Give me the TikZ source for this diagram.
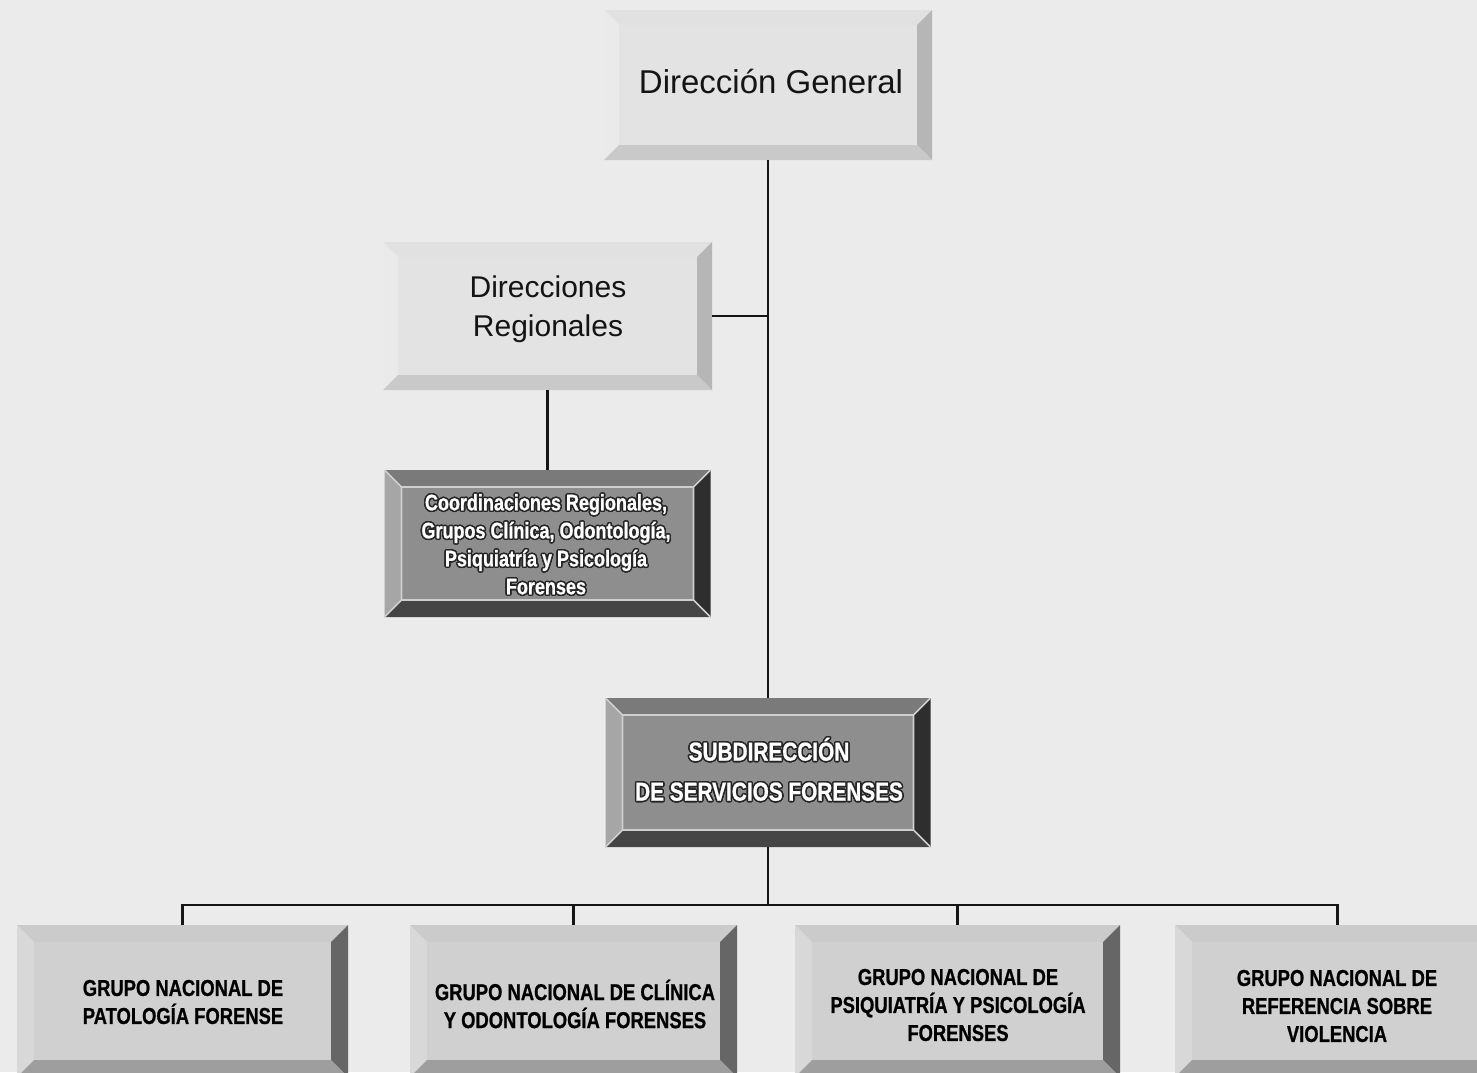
\documentclass[tikz,border=0pt]{standalone}
\usepackage{fontspec}
\setmainfont{Liberation Sans}
\newfontfamily\nb[FakeStretch=0.8,BoldFeatures={FakeBold=0.8}]{Liberation Sans}
\usepackage{contour}
\contourlength{1.5pt}
\usetikzlibrary{calc}
\definecolor{bgc}{HTML}{EBEBEB}
\definecolor{lface}{HTML}{E3E3E3}
\definecolor{ltop}{HTML}{E1E1E1}
\definecolor{lleft}{HTML}{EAEAEA}
\definecolor{lright}{HTML}{B6B6B6}
\definecolor{lbot}{HTML}{C9C9C9}
\definecolor{mface}{HTML}{D0D0D0}
\definecolor{mtop}{HTML}{CBCBCB}
\definecolor{mleft}{HTML}{D8D8D8}
\definecolor{mright}{HTML}{666666}
\definecolor{mbot}{HTML}{9E9E9E}
\definecolor{dface}{HTML}{8E8E8E}
\definecolor{dtop}{HTML}{7A7A7A}
\definecolor{dleft}{HTML}{A6A6A6}
\definecolor{dright}{HTML}{2E2E2E}
\definecolor{dbot}{HTML}{454545}
\definecolor{dhl}{HTML}{CFCFCF}
\definecolor{linec}{HTML}{151515}
\newcommand\outl[1]{\contour{black!85}{#1}}
\begin{document}
\begin{tikzpicture}[x=1pt,y=-1pt,
  bevel/.style n args={7}{inner sep=0pt, outer sep=0pt, path picture={
    \path (path picture bounding box.north west) coordinate (o1)
          (path picture bounding box.north east) coordinate (o2)
          (path picture bounding box.south east) coordinate (o3)
          (path picture bounding box.south west) coordinate (o4);
    \path ($(o1)+(#1,#1)$) coordinate (i1) ($(o2)+(-#1,#1)$) coordinate (i2)
          ($(o3)+(-#1,-#1)$) coordinate (i3) ($(o4)+(#1,-#1)$) coordinate (i4);
    \fill[#3] (o1)--(o2)--(i2)--(i1)--cycle;
    \fill[#4] (o4)--(o1)--(i1)--(i4)--cycle;
    \fill[#5] (o2)--(o3)--(i3)--(i2)--cycle;
    \fill[#6] (o3)--(o4)--(i4)--(i3)--cycle;
    \fill[#2] (i1) rectangle (i3);
    \draw[#7, line width=1.6pt] (i1)--(i2)--(i3)--(i4)--cycle
          (o1)--(i1) (o2)--(i2) (o3)--(i3) (o4)--(i4);
  }},
  lightbox/.style={bevel={15}{lface}{ltop}{lleft}{lright}{lbot}{draw=none}},
  midbox/.style={bevel={17}{mface}{mtop}{mleft}{mright}{mbot}{draw=none}},
  darkbox/.style={bevel={17}{dface}{dtop}{dleft}{dright}{dbot}{draw=dhl}},
  conn/.style={draw=linec, line width=2.4pt},
  bigtxt/.style={inner sep=0pt, align=center, text=black!92},
  wtxt/.style={inner sep=0pt, align=center, text=white, font=\nb\bfseries},
  btxt/.style={inner sep=0pt, align=center, text=black, font=\nb\bfseries\fontsize{23}{28}\selectfont},
]
\fill[bgc] (0,0) rectangle (1477,1072);
\clip (0,0) rectangle (1477,1072);

% boxes
\node[lightbox, minimum width=328pt, minimum height=150pt] (dg) at (768,85) {};
\node[lightbox, minimum width=329pt, minimum height=148pt] (dr) at (547.5,316) {};
\node[darkbox, minimum width=326pt, minimum height=147pt] (co) at (547.5,543.5) {};
\node[darkbox, minimum width=325pt, minimum height=149pt] (sub) at (768,772.5) {};
\node[midbox, minimum width=331pt, minimum height=152pt] (b1) at (182.5,1001) {};
\node[midbox, minimum width=327pt, minimum height=152pt] (b2) at (573.5,1001) {};
\node[midbox, minimum width=325pt, minimum height=152pt] (b3) at (957.5,1001) {};
\node[midbox, minimum width=325pt, minimum height=152pt] (b4) at (1337.5,1001) {};

% texts
\node[bigtxt, font=\fontsize{33}{40}\selectfont] (dgt) at (771,82) {Dirección General};
\node[bigtxt, font=\fontsize{30}{39}\selectfont] (drt) at (548,309) {Direcciones\\Regionales};
\node[wtxt, font=\nb\bfseries\fontsize{22.5}{28}\selectfont] (cot) at (546,545)
  {\outl{Coordinaciones Regionales,}\\\outl{Grupos Clínica, Odontología,}\\\outl{Psiquiatría y Psicología}\\\outl{Forenses}};
\node[wtxt, font=\nb\bfseries\fontsize{26}{40}\selectfont] (subt) at (769,770)
  {\outl{SUBDIRECCIÓN}\\\outl{DE SERVICIOS FORENSES}};
\node[btxt] (b1t) at (183,1002) {GRUPO NACIONAL DE\\PATOLOGÍA FORENSE};
\node[btxt] (b2t) at (575,1004) {GRUPO NACIONAL DE CLÍNICA\\Y ODONTOLOGÍA FORENSES};
\node[btxt] (b3t) at (958,1005) {GRUPO NACIONAL DE\\PSIQUIATRÍA Y PSICOLOGÍA\\FORENSES};
\node[btxt] (b4t) at (1337,1006) {GRUPO NACIONAL DE\\REFERENCIA SOBRE\\VIOLENCIA};

% connectors
\coordinate (bus) at (768,905);
\draw[conn] (dg.south) -- (sub.north);
\draw[conn] (dr.east) -- (dr.east -| dg.south);
\draw[conn] (dr.south) -- (co.north);
\draw[conn] (sub.south) -- (bus);
\draw[conn] (b1.north) -- (b1.north |- bus) -- (b4.north |- bus) -- (b4.north);
\draw[conn] (b2.north) -- (b2.north |- bus);
\draw[conn] (b3.north) -- (b3.north |- bus);
\end{tikzpicture}
\end{document}
